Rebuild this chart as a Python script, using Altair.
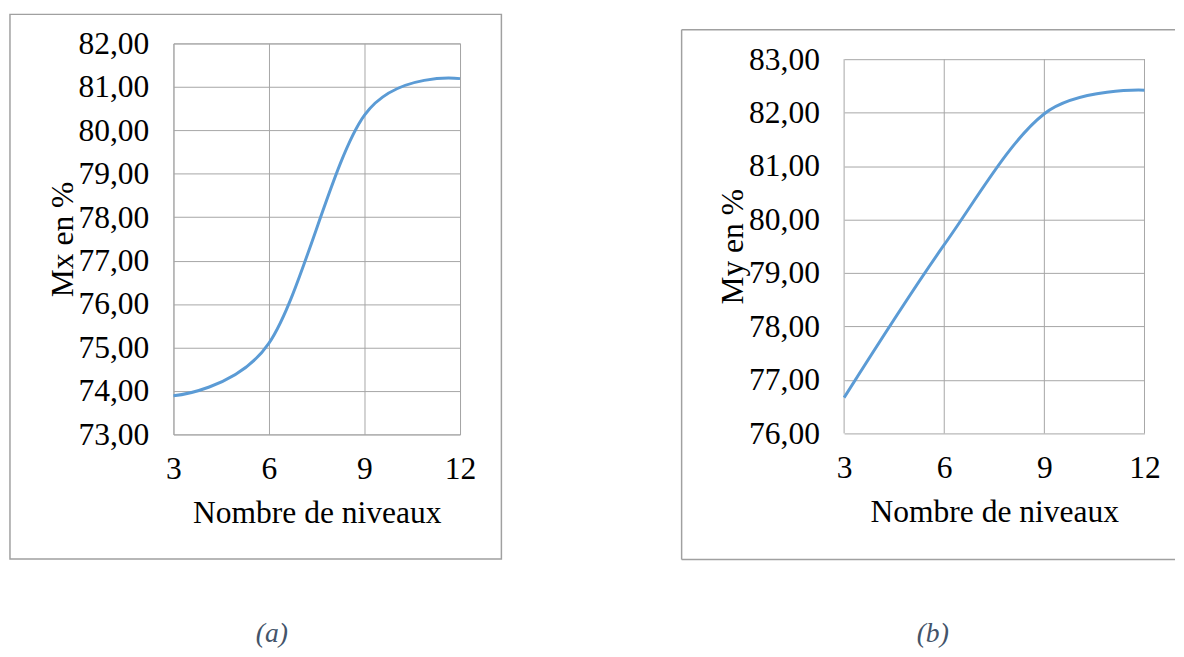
import altair as alt
import pandas as pd

# Data
niveaux = [3, 6, 9, 12]
mx_values = [73.89, 75.10, 80.35, 81.19]
my_values = [76.67, 79.53, 81.98, 82.42]

x_ticks = [3, 6, 9, 12]
mx_ticks = [73, 74, 75, 76, 77, 78, 79, 80, 81, 82]
my_ticks = [76, 77, 78, 79, 80, 81, 82, 83]

x_title = "Nombre de niveaux"
mx_title = "Mx en %"
my_title = "My en %"
captions = ["(a)", "(b)"]

LINE = "#5B9BD5"
GRID = "#A6A6A6"
BOX = "#A0A0A0"
FONT = "Liberation Serif"
LBL = 32
TTL = 32

df_a = pd.DataFrame({"n": niveaux, "v": mx_values})
df_b = pd.DataFrame({"n": niveaux, "v": my_values})
df_xgrid = pd.DataFrame({"n": x_ticks, "lo": [my_ticks[0]] * 4, "hi": [my_ticks[-1]] * 4})
one = alt.Data(values=[{"k": 0}])

label_expr = "replace(format(datum.value, '.2f'), '.', ',')"

W_A, H_A = 291, 397
W_B = 305
H_B = 396           # same bottom as panel (a)
TOP_B = 16          # panel (b) plot area starts 16px lower


def x_axis(grid):
    return alt.Axis(
        values=x_ticks, title=x_title, grid=grid, ticks=False, domain=False,
        labelPadding=35, labelBaseline="middle", labelFlush=False,
        titleY=79, titleBaseline="middle",
    )


def y_axis(title, ticks, ty):
    return alt.Axis(
        values=ticks, title=title, grid=True, ticks=False, domain=False,
        labelExpr=label_expr, labelPadding=25, labelFlush=False,
        titleAngle=270, titleX=-113, titleY=ty,
        titleAlign="center", titleBaseline="middle",
    )


xs = alt.Scale(domain=[3, 12], nice=False, zero=False)

line_a = alt.Chart(df_a).mark_line(
    color=LINE, strokeWidth=3, interpolate="cardinal"
).encode(
    x=alt.X("n:Q", scale=xs, axis=x_axis(True)),
    y=alt.Y("v:Q", scale=alt.Scale(domain=[73, 82], nice=False, zero=False),
            axis=y_axis(mx_title, mx_ticks, H_A / 2)),
)

ys_b = alt.Scale(domain=[76, 83], nice=False, zero=False, range=[H_B, TOP_B])

line_b = alt.Chart(df_b).mark_line(
    color=LINE, strokeWidth=3, interpolate="cardinal"
).encode(
    x=alt.X("n:Q", scale=xs, axis=x_axis(False)),
    y=alt.Y("v:Q", scale=ys_b, axis=y_axis(my_title, my_ticks, (H_B + TOP_B) / 2)),
)

# vertical grid lines of panel (b), through its scales
xgrid_b = alt.Chart(df_xgrid).mark_rule(color=GRID, strokeWidth=1).encode(
    x=alt.X("n:Q", scale=xs),
    y=alt.Y("lo:Q", scale=ys_b),
    y2="hi:Q",
)

# outer chart-area frames
box_a = alt.Chart(one).mark_rect(
    fillOpacity=0, stroke=BOX, strokeWidth=1.5
).encode(
    x=alt.value(-166), x2=alt.value(333), y=alt.value(-29.5), y2=alt.value(523.5)
)

frame_b_left = alt.Chart(one).mark_rule(color=BOX, strokeWidth=1.5).encode(
    x=alt.value(-165), y=alt.value(-14), y2=alt.value(524)
)
frame_b_top = alt.Chart(one).mark_rule(color=BOX, strokeWidth=1.5).encode(
    x=alt.value(-165), x2=alt.value(336), y=alt.value(-14)
)
frame_b_bottom = alt.Chart(one).mark_rule(color=BOX, strokeWidth=1.5).encode(
    x=alt.value(-165), x2=alt.value(336), y=alt.value(524)
)

cap_a = alt.Chart(one).mark_text(
    font=FONT, fontStyle="italic", fontSize=28, color="#44546A",
    align="center", baseline="middle"
).encode(x=alt.value(100), y=alt.value(600), text=alt.value(captions[0]))

cap_b = alt.Chart(one).mark_text(
    font=FONT, fontStyle="italic", fontSize=28, color="#44546A",
    align="center", baseline="middle"
).encode(x=alt.value(90), y=alt.value(600), text=alt.value(captions[1]))

panel_a = alt.layer(box_a, line_a, cap_a).properties(width=W_A, height=H_A)
panel_b = alt.layer(
    frame_b_left, frame_b_top, frame_b_bottom, xgrid_b, line_b, cap_b
).properties(width=W_B, height=H_B, view=alt.ViewConfig(strokeOpacity=0))

chart = (
    alt.hconcat(panel_a, panel_b, spacing=180)
    .resolve_scale(y="independent")
    .properties(padding={"left": 0, "top": 0, "right": 0, "bottom": 0},
                background="white")
    .configure_view(stroke=GRID, strokeWidth=1)
    .configure_axis(
        gridColor=GRID, gridWidth=1, gridOpacity=1,
        labelFont=FONT, labelFontSize=LBL, labelColor="black",
        titleFont=FONT, titleFontSize=TTL, titleFontWeight="normal",
        titleColor="black",
    )
)

chart.save("out.html", embed_options={"renderer": "svg", "actions": False})
